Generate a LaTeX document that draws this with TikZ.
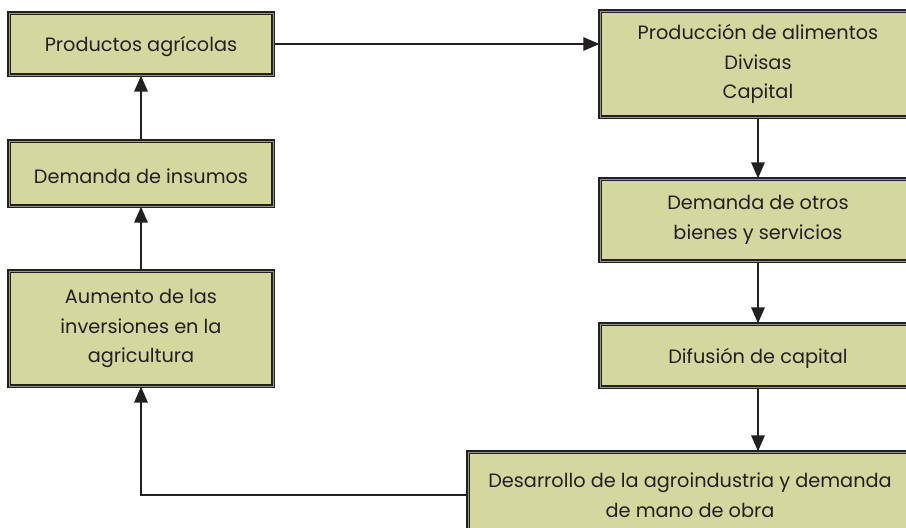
\documentclass[tikz,border=0pt]{standalone}
\usepackage{fontspec}
\setmainfont{Poppins}
\usepackage{tikz}
\usetikzlibrary{positioning,arrows.meta}
\definecolor{boxfill}{RGB}{212,215,158}
\definecolor{boxline}{RGB}{35,32,33}
\definecolor{gapline}{RGB}{150,150,130}

\begin{document}
\begin{tikzpicture}[x=1pt, y=-1pt, on grid, line width=1.8pt, draw=boxline,
	>={Triangle[length=16pt, width=13.5pt]},
	caja/.style ={ rectangle, fill=boxfill, draw=boxline, double=gapline,
		double distance=1pt, line width=1.4pt, text=boxline, align=center,
		font=\fontsize{19.3}{29.5}\selectfont, inner sep=0pt,
		execute at begin node=\rule{0pt}{21pt}}]
	\useasboundingbox (0,0) rectangle (906,528);
	\clip (0,0) rectangle (906,528);
	% columna izquierda
	\node[caja, minimum width=264pt, minimum height=62pt] (prod) at (141,44) {Productos agrícolas};
	\node[caja, minimum width=264pt, minimum height=65pt] (ins) at (141,173.5) {Demanda de insumos};
	\node[caja, minimum width=264pt, minimum height=115pt] (aum) at (141,328.5)
		{Aumento de las\\inversiones en la\\agricultura};
	% columna derecha
	\node[caja, minimum width=316pt, minimum height=106pt] (alim) at (758,64)
		{Producción de alimentos\\Divisas\\Capital};
	\node[caja, minimum width=316pt, minimum height=82pt] (otros) [below = 156pt of alim]
		{Demanda de otros\\bienes y servicios};
	\node[caja, minimum width=316pt, minimum height=63pt] (difus) [below = 135.5pt of otros]
		{Difusión de capital};
	\node[caja, minimum width=444pt, minimum height=86pt] (desa) at (690,495)
		{Desarrollo de la agroindustria y demanda\\de mano de obra};
	% flechas
	\draw[->] (prod.east) -- (prod.east -| alim.west);
	\draw[->] (alim) -- (otros);
	\draw[->] (otros) -- (difus);
	\draw[->] (difus.south) -- (difus.south |- desa.north);
	\draw[->] (desa.west) -| (aum.south);
	\draw[->] (aum) -- (ins);
	\draw[->] (ins) -- (prod);
\end{tikzpicture}
\end{document}
